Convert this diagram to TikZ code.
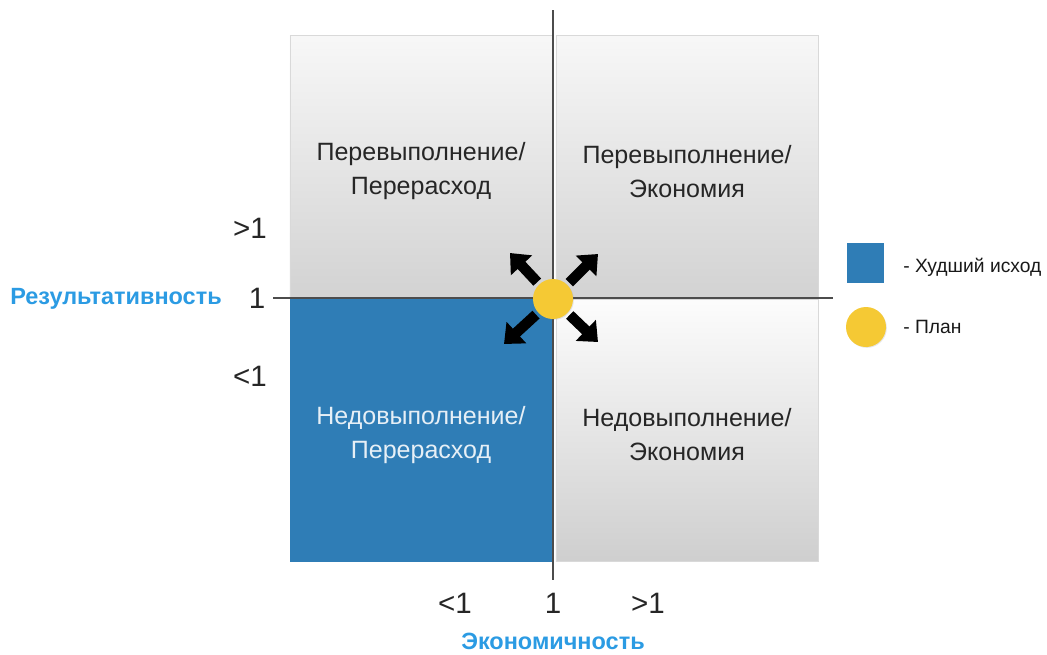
\documentclass[tikz,border=0pt]{standalone}
\usepackage{fontspec}
\setmainfont{Liberation Sans}
\usetikzlibrary{arrows.meta,shadows}
\definecolor{worstblue}{HTML}{2F7DB6}
\definecolor{axisblue}{HTML}{2B9BE3}
\definecolor{planyellow}{HTML}{F5C934}
\tikzset{
	quad/.style={minimum width=6.55cm, minimum height=6.55cm, inner sep=0pt, draw=gray!30, line width=0.4pt},
	greyquad/.style={quad, top color=gray!6, bottom color=gray!35},
	worstquad/.style={quad, fill=worstblue, draw=worstblue},
	quadtext/.style={align=center, inner sep=0pt, font=\fontsize{17.8}{24.2}\selectfont, text=black!85},
	tick/.style={font=\fontsize{21}{21}\selectfont, text=black!85, inner sep=0pt},
	axislabel/.style={font=\fontsize{16.7}{16.7}\selectfont\bfseries, text=axisblue, inner sep=0pt},
	legendtext/.style={font=\fontsize{13.7}{13.7}\selectfont, text=black!90, anchor=west, inner sep=0pt},
	plandot/.style={circle, fill=planyellow, minimum size=1cm, inner sep=0pt,
		drop shadow={opacity=0.2, shadow xshift=0.6pt, shadow yshift=-0.6pt}},
	bigarrow/.style={line width=7.5pt, -{Triangle[length=12pt, width=20pt]}, shorten <=2pt}
}
\begin{document}
\begin{tikzpicture}[x=0.025cm, y=-0.025cm]
	\useasboundingbox (0,0) rectangle (1047,654);
	% quadrants
	\node[greyquad] (tl) at (421,166.5) {};
	\node[greyquad] (tr) at (687,166.5) {};
	\node[worstquad] (bl) at (421,430) {};
	\node[quad, top color=gray!2, bottom color=gray!38] (br) at (687,430) {};
	\node[quadtext] (tltext) at ([yshift=-3.5pt]tl.center) {Перевыполнение/\\Перерасход};
	\node[quadtext] (trtext) at ([yshift=-3.5pt]tr.center) {Перевыполнение/\\Экономия};
	\node[quadtext, text=white!88!worstblue] (bltext) at ([yshift=-3.5pt]bl.center) {Недовыполнение/\\Перерасход};
	\node[quadtext] (brtext) at ([yshift=-3.5pt]br.center) {Недовыполнение/\\Экономия};
	% axes
	\coordinate (vtop) at (553,10);
	\coordinate (vbot) at (553,580);
	\coordinate (hleft) at (273,298);
	\coordinate (hright) at (833,298);
	\draw[black!70, line width=1pt] (vtop) -- (vbot);
	\draw[black!70, line width=1pt] (hleft) -- (hright);
	% plan and directions
	\node[plandot] (plan) at (553,299) {};
	\coordinate (nw) at (510,253);
	\coordinate (ne) at (598,254);
	\coordinate (sw) at (504,344);
	\coordinate (se) at (598,342);
	\draw[bigarrow] (plan) -- (nw);
	\draw[bigarrow] (plan) -- (ne);
	\draw[bigarrow] (plan) -- (sw);
	\draw[bigarrow] (plan) -- (se);
	% ticks
	\node[tick] (ygt) at (250,228) {>1};
	\node[tick] (yone) at (257,298) {1};
	\node[tick] (ylt) at (250,376) {<1};
	\node[tick] (xlt) at (455,603) {<1};
	\node[tick] (xone) at (553,603) {1};
	\node[tick] (xgt) at (648,603) {>1};
	\node[axislabel] (ylabel) at (116,299) {Результативность};
	\node[axislabel] (xlabel) at (553,641) {Экономичность};
	% legend
	\node[fill=worstblue, minimum width=0.93cm, minimum height=0.98cm, inner sep=0pt] (lworst) at (865.5,263) {};
	\node[legendtext] (tworst) at (903,267) {- Худший исход};
	\node[plandot] (lplan) at (866,327) {};
	\node[legendtext] (tplan) at (903,327) {- План};
\end{tikzpicture}
\end{document}
